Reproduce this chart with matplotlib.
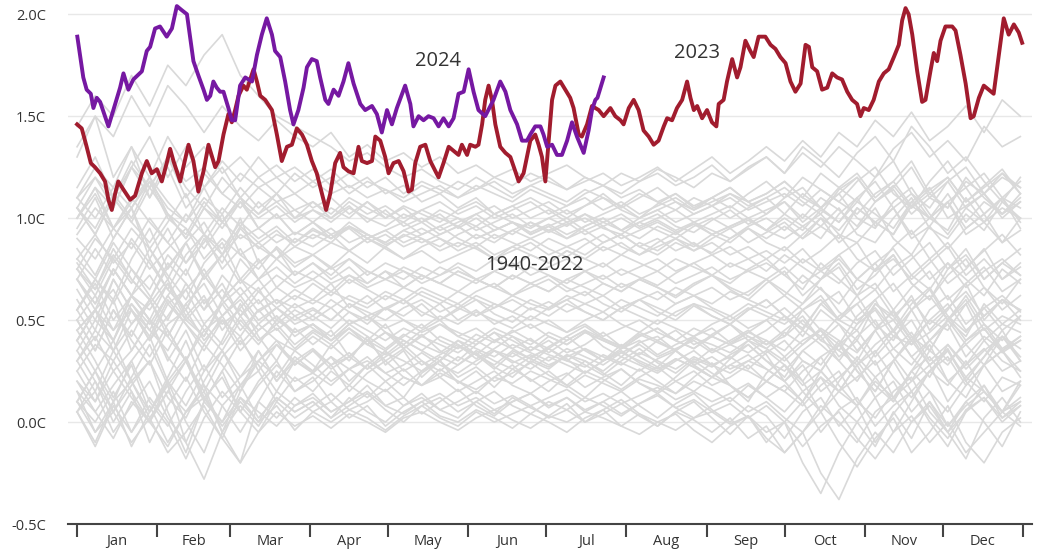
import numpy as np
import matplotlib.pyplot as plt

plt.rcParams['font.family'] = ['Open Sans', 'DejaVu Sans']

months = ['Jan', 'Feb', 'Mar', 'Apr', 'May', 'Jun',
          'Jul', 'Aug', 'Sep', 'Oct', 'Nov', 'Dec']
month_starts = [0, 31, 59, 90, 120, 151, 181, 212, 243, 273, 304, 334, 365]
y_ticks = [-0.5, 0.0, 0.5, 1.0, 1.5, 2.0]

# daily global temperature anomaly (C above 1850-1900), day of year
days_2023 = [0, 1.8, 3.7, 5.3, 6.9, 8.9, 10.8, 12.1, 13.4, 14.7, 15.9, 17.9, 20.5,
             22.4, 25.0, 26.9, 28.8, 30.8, 32.7, 34.6, 35.9, 37.2, 39.8, 41.0, 43.0,
             44.9, 46.8, 48.8, 50.7, 53.3, 54.6, 56.5, 58.4, 59.7, 61.0, 62.3, 64.2,
             65.5, 68.1, 69.4, 70.7, 72.6, 75.2, 77.1, 79.0, 81.0, 82.9, 84.8, 86.8,
             88.7, 90.6, 92.5, 94.5, 96.1, 97.7, 99.6, 101.5, 102.8, 104.7, 106.7,
             108.6, 109.9, 111.9, 113.8, 115.1, 117.0, 118.9, 120.2, 122.1, 124.1,
             126.0, 127.9, 129.2, 130.5, 132.4, 134.4, 136.3, 139.5, 141.4, 143.4,
             145.3, 147.2, 148.5, 150.5, 151.7, 153.7, 154.9, 156.3, 157.5, 158.8,
             160.1, 161.4, 163.3, 165.3, 167.2, 169.1, 170.4, 172.3, 173.6, 174.9,
             176.8, 178.1, 179.4, 180.7, 182.0, 183.3, 184.6, 186.5, 188.4, 190.3,
             191.6, 193.6, 194.8, 196.8, 198.7, 201.3, 203.2, 205.8, 207.7, 209.7,
             210.9, 212.9, 214.8, 216.7, 218.6, 220.6, 222.5, 224.4, 226.4, 227.7,
             229.6, 231.5, 233.5, 235.4, 236.7, 238.0, 239.3, 241.2, 243.1, 245.0,
             246.7, 247.6, 249.5, 250.8, 252.8, 254.7, 256.0, 257.9, 259.8, 261.1,
             263.0, 265.6, 267.6, 269.5, 271.4, 273.4, 275.3, 277.2, 279.2, 281.1,
             282.4, 283.7, 285.6, 287.5, 289.5, 291.4, 293.3, 295.2, 297.2, 299.1,
             301.0, 302.3, 303.6, 305.5, 307.4, 309.4, 311.3, 313.2, 315.2, 317.1,
             318.4, 319.7, 320.9, 322.3, 324.2, 326.1, 327.4, 329.3, 330.6, 331.9,
             333.2, 335.1, 337.7, 339.0, 340.9, 342.9, 344.8, 346.0, 348.0, 349.9,
             351.8, 353.7, 355.7, 357.6, 359.5, 361.5, 363.4, 364.7]
temp_2023 = [1.46, 1.44, 1.35, 1.27, 1.25, 1.22, 1.18, 1.09, 1.04, 1.12, 1.18, 1.14, 1.09,
             1.11, 1.22, 1.28, 1.22, 1.24, 1.18, 1.27, 1.34, 1.28, 1.18, 1.25, 1.36,
             1.28, 1.13, 1.23, 1.36, 1.25, 1.28, 1.41, 1.51, 1.47, 1.53, 1.60, 1.65,
             1.63, 1.73, 1.67, 1.60, 1.58, 1.53, 1.41, 1.28, 1.35, 1.36, 1.44, 1.41,
             1.36, 1.28, 1.22, 1.12, 1.04, 1.12, 1.27, 1.32, 1.25, 1.23, 1.22,
             1.35, 1.28, 1.27, 1.28, 1.40, 1.38, 1.30, 1.22, 1.27, 1.28,
             1.23, 1.13, 1.14, 1.27, 1.35, 1.36, 1.28, 1.20, 1.27, 1.35,
             1.33, 1.31, 1.36, 1.31, 1.36, 1.35, 1.36, 1.46, 1.58, 1.65,
             1.58, 1.46, 1.35, 1.32, 1.30, 1.23, 1.18, 1.22, 1.30, 1.38,
             1.41, 1.36, 1.30, 1.18, 1.38, 1.58, 1.65, 1.67, 1.63, 1.59,
             1.54, 1.41, 1.40, 1.46, 1.55, 1.53, 1.50, 1.54, 1.50, 1.48,
             1.46, 1.54, 1.58, 1.53, 1.43, 1.40, 1.36, 1.38, 1.45, 1.49,
             1.48, 1.54, 1.58, 1.67, 1.59, 1.53, 1.55, 1.49, 1.53, 1.47,
             1.45, 1.56, 1.58, 1.67, 1.78, 1.69, 1.74, 1.87, 1.82, 1.79,
             1.89, 1.89, 1.85, 1.83, 1.79, 1.76, 1.67, 1.62, 1.66, 1.85,
             1.84, 1.74, 1.72, 1.63, 1.64, 1.71, 1.69, 1.68, 1.62, 1.58,
             1.56, 1.50, 1.54, 1.53, 1.58, 1.67, 1.71, 1.73, 1.79, 1.85,
             1.97, 2.03, 2.00, 1.90, 1.72, 1.57, 1.58, 1.72, 1.81, 1.77,
             1.87, 1.94, 1.94, 1.92, 1.80, 1.66, 1.49, 1.50, 1.59, 1.65,
             1.63, 1.61, 1.80, 1.98, 1.90, 1.95, 1.91, 1.86]

days_2024 = [0.1, 2.4, 3.7, 5.3, 6.3, 7.6, 8.9, 12.1, 14.0, 16.6, 17.9, 19.8, 21.7,
             25.0, 26.9, 28.2, 30.1, 32.0, 34.6, 36.6, 38.5, 40.4, 42.4, 44.9, 46.8,
             48.8, 50.1, 51.4, 52.6, 53.9, 55.2, 56.5, 58.4, 59.7, 61.0, 62.9, 64.9,
             67.5, 69.4, 71.3, 73.2, 75.2, 76.4, 78.4, 80.3, 82.2, 83.5, 85.4, 87.4,
             88.7, 90.6, 92.5, 93.8, 95.8, 97.0, 99.0, 100.9, 102.8, 104.7, 106.7,
             109.3, 111.2, 113.8, 115.7, 117.6, 119.6, 121.5, 123.4, 126.6, 128.6,
             129.8, 131.8, 133.7, 135.6, 137.6, 139.5, 141.4, 143.4, 145.3, 147.2,
             149.2, 151.1, 153.0, 154.9, 157.5, 160.7, 163.3, 165.3, 167.2, 169.8,
             171.7, 173.6, 174.9, 176.8, 178.8, 180.0, 181.4, 183.3, 185.2, 187.1,
             189.1, 191.0, 192.9, 195.5, 197.4, 198.7, 200.0, 200.8, 203.2]
temp_2024 = [1.89, 1.69, 1.63, 1.61, 1.54, 1.59, 1.57, 1.45, 1.53, 1.64, 1.71, 1.63, 1.68,
             1.72, 1.82, 1.84, 1.93, 1.94, 1.89, 1.93, 2.04, 2.02, 2.00, 1.77, 1.70,
             1.63, 1.58, 1.60, 1.67, 1.64, 1.62, 1.62, 1.54, 1.48, 1.48, 1.65, 1.69,
             1.67, 1.80, 1.90, 1.98, 1.90, 1.82, 1.79, 1.67, 1.53, 1.46, 1.53, 1.64,
             1.74, 1.78, 1.77, 1.69, 1.58, 1.56, 1.63, 1.60, 1.67, 1.76, 1.66,
             1.56, 1.53, 1.55, 1.51, 1.42, 1.53, 1.46, 1.54, 1.65, 1.56,
             1.45, 1.50, 1.48, 1.50, 1.49, 1.45, 1.49, 1.45, 1.49, 1.61,
             1.62, 1.73, 1.62, 1.53, 1.50, 1.58, 1.67, 1.62, 1.53, 1.46,
             1.38, 1.38, 1.41, 1.45, 1.45, 1.41, 1.35, 1.36, 1.31, 1.31,
             1.38, 1.47, 1.40, 1.32, 1.43, 1.53, 1.58, 1.59, 1.69]

# earlier years, one value per week
y1940 = [0.45, 0.30, 0.12, 0.28, 0.05, 0.22, 0.40, 0.18, -0.05, 0.15, 0.35, 0.20, 0.32,
         0.25, 0.38, 0.30, 0.42, 0.28, 0.35, 0.22, 0.30, 0.40, 0.33, 0.26, 0.34, 0.29,
         0.36, 0.31, 0.24, 0.30, 0.38, 0.32, 0.27, 0.35, 0.28, 0.22, 0.31, 0.40, 0.33,
         0.20, 0.10, 0.25, 0.38, 0.30, 0.45, 0.32, 0.20, 0.35, 0.50, 0.38, 0.28, 0.42, 0.36]
y1941 = [0.50, 0.35, 0.55, 0.42, 0.60, 0.45, 0.30, 0.48, 0.38, 0.52, 0.40, 0.46, 0.36,
         0.44, 0.38, 0.46, 0.40, 0.35, 0.42, 0.48, 0.40, 0.36, 0.43, 0.39, 0.45, 0.40,
         0.36, 0.42, 0.47, 0.41, 0.37, 0.44, 0.40, 0.35, 0.42, 0.46, 0.39, 0.44, 0.50,
         0.42, 0.55, 0.45, 0.38, 0.52, 0.60, 0.44, 0.55, 0.40, 0.50, 0.62, 0.48, 0.40, 0.52]
y1942 = [0.10, 0.25, 0.40, 0.20, 0.30, 0.05, -0.15, 0.10, 0.25, 0.05, 0.20, 0.30, 0.15,
         0.22, 0.10, 0.18, 0.28, 0.20, 0.12, 0.24, 0.30, 0.19, 0.25, 0.17, 0.26, 0.21,
         0.15, 0.23, 0.30, 0.24, 0.18, 0.26, 0.20, 0.14, 0.22, 0.29, 0.18, 0.10, 0.24,
         0.32, 0.20, 0.05, 0.15, 0.28, 0.12, -0.05, 0.10, 0.25, 0.18, 0.30, 0.15, 0.05, 0.20]
y1944 = [0.40, 0.55, 0.65, 0.48, 0.58, 0.70, 0.52, 0.62, 0.45, 0.56, 0.66, 0.50, 0.58,
         0.52, 0.60, 0.54, 0.48, 0.56, 0.52, 0.58, 0.50, 0.55, 0.60, 0.53, 0.49, 0.56,
         0.52, 0.58, 0.54, 0.50, 0.56, 0.60, 0.54, 0.50, 0.57, 0.52, 0.48, 0.55, 0.60,
         0.52, 0.45, 0.58, 0.50, 0.62, 0.48, 0.40, 0.55, 0.65, 0.50, 0.42, 0.58, 0.48, 0.55]
y1945 = [0.55, 0.40, 0.60, 0.35, 0.50, 0.30, 0.45, 0.25, 0.40, 0.58, 0.42, 0.30, 0.46,
         0.38, 0.45, 0.32, 0.40, 0.48, 0.36, 0.43, 0.35, 0.30, 0.38, 0.44, 0.36, 0.41,
         0.34, 0.40, 0.45, 0.37, 0.32, 0.39, 0.42, 0.35, 0.29, 0.36, 0.31, 0.38, 0.30,
         0.22, 0.35, 0.28, 0.40, 0.25, 0.15, 0.30, 0.42, 0.28, 0.36, 0.20, 0.32, 0.45, 0.30]
y1947 = [0.30, 0.15, 0.35, 0.20, 0.05, 0.18, -0.10, -0.28, -0.05, -0.20, 0.10, 0.25, 0.15,
         0.20, 0.28, 0.15, 0.24, 0.30, 0.22, 0.18, 0.26, 0.20, 0.14, 0.22, 0.28, 0.20,
         0.25, 0.18, 0.12, 0.20, 0.26, 0.19, 0.15, 0.22, 0.30, 0.24, 0.18, 0.12, 0.20,
         0.28, 0.15, 0.05, 0.20, 0.32, 0.22, 0.10, 0.25, 0.38, 0.20, 0.12, 0.28, 0.35, 0.22]
y1949 = [0.25, 0.10, 0.30, 0.15, 0.00, 0.20, 0.32, 0.12, 0.22, 0.05, 0.18, 0.28, 0.20,
         0.24, 0.18, 0.26, 0.20, 0.15, 0.22, 0.18, 0.24, 0.20, 0.16, 0.22, 0.19, 0.25,
         0.21, 0.17, 0.23, 0.19, 0.15, 0.21, 0.18, 0.14, 0.20, 0.16, 0.10, 0.18, 0.12,
         0.05, 0.15, 0.22, 0.08, 0.00, 0.12, 0.20, 0.05, 0.15, -0.02, 0.10, 0.18, 0.05, 0.12]
y1950 = [0.15, -0.05, 0.10, -0.12, 0.05, 0.20, 0.00, -0.15, 0.08, 0.18, 0.02, 0.12, 0.05,
         0.10, 0.02, 0.12, 0.05, 0.00, 0.08, 0.14, 0.06, 0.02, 0.10, 0.04, 0.12, 0.07,
         0.03, 0.09, 0.00, 0.06, 0.11, 0.04, -0.02, 0.05, 0.10, 0.02, -0.06, 0.03, -0.10,
         0.00, -0.20, -0.35, -0.15, 0.00, -0.12, 0.05, -0.08, 0.10, -0.05, -0.18, 0.02, 0.12, 0.00]
y1952 = [0.35, 0.20, 0.05, 0.22, 0.38, 0.18, 0.30, 0.10, 0.25, 0.40, 0.28, 0.15, 0.30,
         0.24, 0.32, 0.20, 0.28, 0.35, 0.25, 0.30, 0.22, 0.28, 0.34, 0.27, 0.22, 0.30,
         0.26, 0.33, 0.28, 0.23, 0.30, 0.36, 0.29, 0.24, 0.31, 0.27, 0.33, 0.38, 0.30,
         0.25, 0.35, 0.42, 0.30, 0.20, 0.34, 0.45, 0.32, 0.22, 0.38, 0.28, 0.40, 0.30, 0.25]
y1953 = [0.35, 0.50, 0.40, 0.58, 0.45, 0.35, 0.52, 0.42, 0.60, 0.48, 0.38, 0.50, 0.44,
         0.48, 0.42, 0.50, 0.45, 0.40, 0.46, 0.42, 0.48, 0.44, 0.40, 0.46, 0.42, 0.38,
         0.44, 0.40, 0.45, 0.41, 0.37, 0.43, 0.39, 0.35, 0.41, 0.38, 0.34, 0.40, 0.36,
         0.30, 0.38, 0.45, 0.32, 0.40, 0.28, 0.36, 0.44, 0.30, 0.38, 0.26, 0.35, 0.42, 0.32]
y1954 = [0.05, 0.20, 0.00, 0.15, -0.10, 0.08, 0.22, 0.05, -0.08, 0.12, 0.00, 0.15, 0.08,
         0.14, 0.05, 0.10, 0.18, 0.08, 0.12, 0.04, 0.10, 0.16, 0.08, 0.03, 0.10, 0.14,
         0.07, 0.12, 0.05, 0.10, 0.15, 0.08, 0.02, 0.09, 0.14, 0.06, 0.00, 0.08, 0.03,
         -0.08, 0.05, 0.12, -0.02, 0.08, -0.10, 0.04, 0.15, 0.00, -0.12, 0.05, 0.18, 0.02, 0.10]
y1956 = [0.10, -0.05, 0.05, -0.10, 0.02, -0.15, -0.05, 0.08, -0.08, -0.20, -0.05, 0.05, -0.02,
         0.03, -0.03, 0.04, 0.00, -0.05, 0.02, 0.05, 0.00, -0.04, 0.02, 0.06, 0.01, -0.03,
         0.03, 0.00, 0.05, 0.02, -0.02, 0.04, 0.00, -0.04, 0.02, 0.05, -0.01, 0.03, -0.05,
         0.00, -0.12, -0.02, 0.05, -0.08, -0.18, -0.05, 0.03, -0.10, 0.00, -0.15, -0.05, 0.05, -0.02]
y1957 = [0.10, 0.25, 0.05, 0.18, 0.30, 0.12, 0.02, 0.20, 0.35, 0.22, 0.30, 0.40, 0.28,
         0.35, 0.26, 0.32, 0.40, 0.30, 0.36, 0.28, 0.33, 0.38, 0.31, 0.36, 0.42, 0.35,
         0.40, 0.34, 0.38, 0.44, 0.37, 0.33, 0.40, 0.45, 0.38, 0.42, 0.48, 0.40, 0.45,
         0.52, 0.42, 0.55, 0.48, 0.40, 0.58, 0.50, 0.62, 0.45, 0.55, 0.68, 0.50, 0.60, 0.55]
y1958 = [0.55, 0.70, 0.58, 0.75, 0.62, 0.50, 0.68, 0.55, 0.65, 0.52, 0.60, 0.48, 0.55,
         0.50, 0.56, 0.48, 0.52, 0.46, 0.50, 0.44, 0.48, 0.42, 0.46, 0.40, 0.44, 0.48,
         0.42, 0.38, 0.44, 0.40, 0.36, 0.42, 0.46, 0.40, 0.36, 0.42, 0.38, 0.34, 0.40,
         0.32, 0.40, 0.45, 0.35, 0.28, 0.38, 0.45, 0.32, 0.40, 0.30, 0.38, 0.46, 0.34, 0.40]
y1959 = [0.50, 0.35, 0.55, 0.40, 0.28, 0.45, 0.30, 0.15, 0.32, 0.42, 0.25, 0.38, 0.30,
         0.36, 0.28, 0.34, 0.26, 0.32, 0.38, 0.30, 0.25, 0.32, 0.28, 0.35, 0.30, 0.26,
         0.32, 0.28, 0.24, 0.30, 0.35, 0.29, 0.25, 0.31, 0.27, 0.22, 0.28, 0.33, 0.26,
         0.20, 0.30, 0.25, 0.15, 0.28, 0.35, 0.22, 0.12, 0.25, 0.32, 0.18, 0.28, 0.35, 0.25]
y1962 = [0.30, 0.42, 0.25, 0.35, 0.50, 0.32, 0.20, 0.38, 0.28, 0.15, 0.30, 0.22, 0.35,
         0.28, 0.20, 0.26, 0.32, 0.24, 0.18, 0.25, 0.30, 0.22, 0.27, 0.20, 0.24, 0.29,
         0.23, 0.18, 0.25, 0.21, 0.16, 0.22, 0.27, 0.20, 0.15, 0.22, 0.18, 0.12, 0.20,
         0.15, 0.08, 0.18, 0.25, 0.10, 0.02, 0.15, 0.22, 0.05, -0.05, 0.10, 0.00, -0.12, 0.05]
y1963 = [0.20, 0.05, 0.18, 0.30, 0.10, -0.02, 0.15, 0.28, 0.12, 0.22, 0.35, 0.20, 0.30,
         0.25, 0.32, 0.26, 0.30, 0.24, 0.28, 0.34, 0.28, 0.24, 0.30, 0.35, 0.29, 0.33,
         0.28, 0.32, 0.36, 0.30, 0.34, 0.38, 0.32, 0.36, 0.40, 0.34, 0.38, 0.42, 0.36,
         0.44, 0.38, 0.46, 0.40, 0.34, 0.45, 0.50, 0.38, 0.44, 0.52, 0.40, 0.46, 0.35, 0.42]
y1964 = [0.20, 0.10, 0.25, 0.12, 0.00, 0.15, 0.05, 0.18, 0.08, -0.05, 0.10, 0.02, 0.12,
         0.05, 0.10, 0.02, 0.08, -0.02, 0.05, 0.10, 0.03, 0.00, 0.06, 0.02, -0.03, 0.04,
         0.00, -0.05, 0.02, 0.06, -0.02, -0.06, 0.00, 0.04, -0.04, -0.10, -0.02, 0.03, -0.08,
         -0.15, -0.05, 0.05, -0.10, -0.22, -0.08, 0.02, -0.15, -0.05, 0.08, -0.10, -0.20, -0.05, 0.02]
y1966 = [0.05, -0.10, 0.10, 0.20, 0.02, 0.15, 0.30, 0.12, 0.00, 0.18, 0.25, 0.10, 0.22,
         0.15, 0.25, 0.18, 0.12, 0.20, 0.26, 0.18, 0.22, 0.15, 0.20, 0.25, 0.18, 0.14,
         0.20, 0.24, 0.17, 0.22, 0.26, 0.19, 0.14, 0.20, 0.25, 0.18, 0.22, 0.28, 0.20,
         0.15, 0.25, 0.32, 0.18, 0.08, 0.22, 0.30, 0.15, 0.25, 0.35, 0.20, 0.10, 0.22, 0.18]
y1968 = [0.05, -0.12, 0.08, -0.05, 0.12, 0.00, -0.18, 0.02, 0.15, 0.05, -0.05, 0.10, 0.02,
         0.08, 0.14, 0.06, 0.10, 0.16, 0.08, 0.12, 0.06, 0.10, 0.15, 0.09, 0.13, 0.08,
         0.12, 0.16, 0.10, 0.14, 0.09, 0.13, 0.17, 0.11, 0.15, 0.10, 0.14, 0.19, 0.12,
         0.18, 0.10, 0.22, 0.15, 0.08, 0.20, 0.12, 0.25, 0.15, 0.05, 0.18, 0.28, 0.15, 0.20]
y1969 = [0.25, 0.38, 0.30, 0.45, 0.32, 0.48, 0.55, 0.40, 0.50, 0.35, 0.45, 0.52, 0.42,
         0.48, 0.40, 0.46, 0.38, 0.44, 0.40, 0.35, 0.42, 0.38, 0.33, 0.40, 0.36, 0.31,
         0.37, 0.42, 0.35, 0.30, 0.36, 0.40, 0.33, 0.38, 0.42, 0.35, 0.40, 0.45, 0.38,
         0.42, 0.50, 0.40, 0.35, 0.48, 0.55, 0.42, 0.38, 0.50, 0.45, 0.58, 0.40, 0.48, 0.44]
y1971 = [0.15, 0.05, -0.08, 0.10, 0.00, -0.12, 0.05, 0.15, -0.05, 0.08, -0.02, 0.12, 0.05,
         0.10, 0.02, 0.08, 0.14, 0.06, 0.00, 0.08, 0.12, 0.05, 0.10, 0.15, 0.08, 0.04,
         0.10, 0.06, 0.12, 0.08, 0.03, 0.09, 0.14, 0.07, 0.02, 0.08, 0.12, 0.05, 0.10,
         0.02, -0.05, 0.08, 0.00, -0.10, 0.05, 0.12, 0.00, 0.10, -0.02, 0.08, 0.15, 0.05, 0.10]
y1973 = [0.45, 0.55, 0.40, 0.62, 0.50, 0.42, 0.58, 0.45, 0.35, 0.50, 0.40, 0.48, 0.38,
         0.45, 0.40, 0.48, 0.42, 0.36, 0.43, 0.38, 0.34, 0.40, 0.36, 0.32, 0.38, 0.34,
         0.30, 0.36, 0.32, 0.28, 0.34, 0.30, 0.26, 0.31, 0.27, 0.22, 0.28, 0.25, 0.20,
         0.28, 0.18, 0.25, 0.15, 0.22, 0.30, 0.12, 0.20, 0.28, 0.10, 0.22, 0.15, 0.05, 0.18]
y1974 = [0.05, 0.15, -0.05, 0.08, 0.20, 0.02, -0.10, 0.10, 0.00, 0.12, 0.05, -0.02, 0.08,
         0.12, 0.05, 0.10, 0.15, 0.08, 0.04, 0.10, 0.14, 0.08, 0.12, 0.06, 0.10, 0.14,
         0.08, 0.12, 0.06, 0.10, 0.04, 0.09, 0.13, 0.07, 0.11, 0.05, 0.09, 0.02, 0.08,
         0.00, 0.10, -0.05, 0.06, 0.12, -0.02, 0.08, 0.15, 0.02, -0.08, 0.06, 0.12, 0.00, 0.08]
y1976 = [0.10, 0.00, 0.15, -0.05, 0.08, -0.10, 0.05, 0.12, -0.02, 0.10, 0.00, 0.08, -0.04,
         0.05, 0.00, 0.06, 0.02, -0.04, 0.03, 0.08, 0.02, -0.02, 0.05, 0.00, 0.04, 0.08,
         0.02, 0.06, 0.00, 0.04, 0.09, 0.03, -0.02, 0.05, 0.01, -0.05, 0.02, -0.08, -0.02,
         -0.15, -0.05, -0.25, -0.38, -0.18, -0.05, -0.15, 0.00, 0.08, -0.05, 0.05, 0.12, 0.02, 0.08]
y1977 = [0.30, 0.45, 0.35, 0.55, 0.42, 0.60, 0.48, 0.38, 0.52, 0.62, 0.50, 0.56, 0.48,
         0.52, 0.46, 0.54, 0.50, 0.56, 0.50, 0.46, 0.52, 0.48, 0.54, 0.50, 0.46, 0.52,
         0.48, 0.44, 0.50, 0.54, 0.48, 0.44, 0.50, 0.46, 0.42, 0.48, 0.52, 0.46, 0.50,
         0.56, 0.48, 0.42, 0.52, 0.58, 0.46, 0.54, 0.40, 0.50, 0.58, 0.45, 0.52, 0.60, 0.50]
y1978 = [0.40, 0.55, 0.35, 0.48, 0.60, 0.42, 0.30, 0.45, 0.52, 0.38, 0.48, 0.40, 0.35,
         0.42, 0.36, 0.44, 0.38, 0.33, 0.40, 0.35, 0.30, 0.37, 0.33, 0.28, 0.35, 0.31,
         0.27, 0.33, 0.30, 0.25, 0.32, 0.28, 0.24, 0.30, 0.35, 0.28, 0.32, 0.26, 0.34,
         0.40, 0.30, 0.25, 0.38, 0.45, 0.32, 0.42, 0.50, 0.35, 0.28, 0.40, 0.48, 0.36, 0.42]
y1980 = [0.40, 0.55, 0.45, 0.62, 0.50, 0.42, 0.58, 0.68, 0.52, 0.60, 0.48, 0.56, 0.50,
         0.55, 0.50, 0.58, 0.52, 0.56, 0.60, 0.54, 0.50, 0.56, 0.52, 0.58, 0.54, 0.50,
         0.56, 0.60, 0.54, 0.50, 0.56, 0.52, 0.48, 0.54, 0.58, 0.52, 0.48, 0.55, 0.60,
         0.52, 0.46, 0.58, 0.64, 0.50, 0.56, 0.45, 0.58, 0.66, 0.52, 0.44, 0.56, 0.62, 0.54]
y1981 = [0.60, 0.45, 0.70, 0.55, 0.40, 0.58, 0.48, 0.35, 0.50, 0.42, 0.55, 0.45, 0.52,
         0.46, 0.40, 0.48, 0.52, 0.44, 0.38, 0.45, 0.50, 0.42, 0.38, 0.44, 0.40, 0.35,
         0.42, 0.38, 0.44, 0.40, 0.36, 0.42, 0.46, 0.40, 0.36, 0.43, 0.48, 0.42, 0.38,
         0.45, 0.52, 0.40, 0.48, 0.35, 0.45, 0.55, 0.42, 0.35, 0.50, 0.60, 0.45, 0.52, 0.48]
y1983 = [0.75, 0.65, 0.85, 0.70, 0.60, 0.78, 0.68, 0.55, 0.72, 0.62, 0.70, 0.58, 0.65,
         0.60, 0.68, 0.56, 0.62, 0.55, 0.60, 0.52, 0.58, 0.50, 0.55, 0.48, 0.52, 0.46,
         0.50, 0.44, 0.48, 0.42, 0.46, 0.50, 0.44, 0.40, 0.46, 0.42, 0.38, 0.44, 0.40,
         0.35, 0.45, 0.38, 0.30, 0.42, 0.50, 0.36, 0.28, 0.40, 0.48, 0.32, 0.42, 0.35, 0.40]
y1985 = [0.40, 0.25, 0.10, 0.30, 0.42, 0.20, 0.08, 0.25, 0.35, 0.18, 0.30, 0.38, 0.28,
         0.35, 0.28, 0.32, 0.26, 0.34, 0.30, 0.25, 0.32, 0.28, 0.35, 0.30, 0.26, 0.32,
         0.36, 0.30, 0.27, 0.33, 0.29, 0.25, 0.31, 0.35, 0.28, 0.32, 0.26, 0.30, 0.35,
         0.28, 0.20, 0.32, 0.38, 0.25, 0.15, 0.30, 0.40, 0.28, 0.35, 0.22, 0.32, 0.42, 0.30]
y1987 = [0.45, 0.55, 0.40, 0.58, 0.48, 0.62, 0.50, 0.42, 0.58, 0.66, 0.54, 0.60, 0.56,
         0.60, 0.56, 0.62, 0.58, 0.64, 0.60, 0.66, 0.62, 0.58, 0.64, 0.68, 0.62, 0.66,
         0.70, 0.64, 0.68, 0.72, 0.66, 0.70, 0.74, 0.68, 0.72, 0.76, 0.70, 0.74, 0.78,
         0.72, 0.80, 0.74, 0.68, 0.78, 0.84, 0.72, 0.80, 0.88, 0.75, 0.82, 0.70, 0.78, 0.85]
y1988 = [0.70, 0.55, 0.75, 0.62, 0.80, 0.65, 0.55, 0.72, 0.60, 0.70, 0.58, 0.66, 0.60,
         0.68, 0.62, 0.70, 0.65, 0.60, 0.66, 0.62, 0.58, 0.64, 0.60, 0.56, 0.62, 0.58,
         0.55, 0.60, 0.64, 0.58, 0.54, 0.60, 0.56, 0.52, 0.58, 0.55, 0.50, 0.56, 0.52,
         0.48, 0.55, 0.62, 0.50, 0.45, 0.58, 0.52, 0.40, 0.55, 0.62, 0.48, 0.56, 0.45, 0.52]
y1990 = [0.55, 0.70, 0.60, 0.80, 0.95, 0.75, 0.88, 0.70, 0.82, 1.00, 0.78, 0.85, 0.72,
         0.78, 0.70, 0.76, 0.68, 0.74, 0.66, 0.72, 0.68, 0.64, 0.70, 0.66, 0.62, 0.68,
         0.72, 0.66, 0.62, 0.68, 0.64, 0.70, 0.66, 0.61, 0.67, 0.72, 0.65, 0.60, 0.68,
         0.74, 0.62, 0.70, 0.78, 0.65, 0.72, 0.82, 0.68, 0.60, 0.75, 0.85, 0.70, 0.78, 0.72]
y1991 = [0.70, 0.85, 0.72, 0.90, 0.78, 0.65, 0.82, 0.92, 0.75, 0.85, 0.70, 0.80, 0.72,
         0.78, 0.72, 0.80, 0.74, 0.70, 0.76, 0.72, 0.68, 0.74, 0.70, 0.66, 0.72, 0.68,
         0.64, 0.70, 0.66, 0.62, 0.68, 0.64, 0.60, 0.66, 0.62, 0.58, 0.64, 0.60, 0.56,
         0.62, 0.55, 0.60, 0.50, 0.58, 0.65, 0.52, 0.60, 0.48, 0.56, 0.64, 0.52, 0.60, 0.55]
y1992 = [0.70, 0.58, 0.75, 0.62, 0.55, 0.68, 0.50, 0.60, 0.48, 0.55, 0.45, 0.52, 0.44,
         0.48, 0.40, 0.46, 0.38, 0.44, 0.36, 0.42, 0.38, 0.34, 0.40, 0.35, 0.32, 0.37,
         0.33, 0.30, 0.36, 0.32, 0.28, 0.34, 0.30, 0.26, 0.32, 0.28, 0.24, 0.30, 0.26,
         0.20, 0.28, 0.15, 0.22, 0.30, 0.18, 0.10, 0.25, 0.32, 0.20, 0.28, 0.36, 0.25, 0.30]
y1994 = [0.50, 0.62, 0.45, 0.55, 0.40, 0.52, 0.65, 0.48, 0.58, 0.45, 0.55, 0.60, 0.52,
         0.56, 0.50, 0.58, 0.54, 0.50, 0.56, 0.60, 0.54, 0.58, 0.52, 0.56, 0.60, 0.55,
         0.59, 0.54, 0.58, 0.62, 0.56, 0.60, 0.64, 0.58, 0.62, 0.66, 0.60, 0.64, 0.70,
         0.62, 0.72, 0.65, 0.58, 0.70, 0.78, 0.64, 0.72, 0.80, 0.68, 0.75, 0.85, 0.70, 0.78]
y1995 = [0.85, 0.72, 0.90, 1.05, 0.80, 0.95, 0.78, 0.88, 1.02, 0.82, 0.75, 0.86, 0.78,
         0.82, 0.75, 0.80, 0.72, 0.78, 0.74, 0.70, 0.76, 0.72, 0.68, 0.74, 0.70, 0.76,
         0.72, 0.68, 0.74, 0.70, 0.75, 0.71, 0.67, 0.73, 0.78, 0.72, 0.68, 0.75, 0.80,
         0.72, 0.65, 0.78, 0.70, 0.62, 0.75, 0.82, 0.68, 0.60, 0.72, 0.80, 0.66, 0.58, 0.70]
y1996 = [0.65, 0.50, 0.70, 0.55, 0.45, 0.62, 0.75, 0.58, 0.68, 0.52, 0.64, 0.56, 0.62,
         0.58, 0.64, 0.60, 0.56, 0.62, 0.58, 0.64, 0.60, 0.56, 0.62, 0.58, 0.54, 0.60,
         0.56, 0.62, 0.58, 0.54, 0.60, 0.56, 0.52, 0.58, 0.62, 0.56, 0.52, 0.58, 0.54,
         0.50, 0.58, 0.66, 0.54, 0.48, 0.60, 0.68, 0.55, 0.62, 0.50, 0.58, 0.66, 0.55, 0.62]
y1997 = [0.55, 0.68, 0.50, 0.62, 0.72, 0.58, 0.65, 0.75, 0.60, 0.70, 0.64, 0.72, 0.66,
         0.70, 0.64, 0.72, 0.68, 0.74, 0.70, 0.76, 0.72, 0.78, 0.74, 0.80, 0.76, 0.82,
         0.78, 0.84, 0.80, 0.86, 0.82, 0.88, 0.84, 0.90, 0.86, 0.92, 0.88, 0.95, 0.90,
         0.96, 0.90, 1.00, 0.94, 1.05, 0.98, 0.92, 1.06, 1.00, 1.12, 0.98, 1.08, 1.02, 1.10]
y1998 = [1.10, 1.20, 1.05, 1.25, 1.15, 1.30, 1.10, 1.22, 1.12, 1.05, 1.15, 1.08, 1.12,
         1.05, 1.10, 1.02, 1.08, 1.00, 1.05, 0.98, 1.02, 0.95, 1.00, 0.94, 0.98, 0.92,
         0.96, 0.90, 0.94, 0.88, 0.92, 0.86, 0.90, 0.84, 0.88, 0.82, 0.86, 0.80, 0.84,
         0.78, 0.85, 0.75, 0.82, 0.70, 0.78, 0.85, 0.72, 0.65, 0.78, 0.70, 0.62, 0.75, 0.68]
y1999 = [0.75, 0.62, 0.80, 0.68, 0.85, 0.72, 0.60, 0.78, 0.88, 0.70, 0.80, 0.66, 0.74,
         0.70, 0.76, 0.68, 0.74, 0.70, 0.66, 0.72, 0.68, 0.74, 0.70, 0.66, 0.72, 0.68,
         0.64, 0.70, 0.74, 0.68, 0.64, 0.70, 0.66, 0.62, 0.68, 0.72, 0.66, 0.62, 0.70,
         0.64, 0.58, 0.70, 0.76, 0.62, 0.68, 0.55, 0.66, 0.74, 0.60, 0.68, 0.76, 0.64, 0.70]
y2001 = [0.75, 0.90, 0.80, 0.95, 0.85, 0.70, 0.88, 0.98, 0.82, 0.92, 0.86, 0.80, 0.90,
         0.86, 0.92, 0.84, 0.90, 0.85, 0.80, 0.86, 0.90, 0.84, 0.88, 0.82, 0.86, 0.90,
         0.85, 0.81, 0.87, 0.92, 0.86, 0.82, 0.88, 0.93, 0.87, 0.83, 0.90, 0.95, 0.88,
         0.84, 0.92, 1.00, 0.88, 0.95, 1.05, 0.90, 0.82, 0.96, 1.08, 0.92, 0.98, 1.10, 0.95]
y2002 = [1.00, 1.15, 1.05, 1.25, 1.10, 1.30, 1.15, 1.05, 1.20, 1.10, 1.02, 1.12, 1.04,
         1.08, 1.00, 1.06, 0.98, 1.04, 0.96, 1.00, 0.94, 0.98, 1.02, 0.96, 0.92, 0.98,
         0.94, 0.90, 0.96, 1.00, 0.94, 0.90, 0.96, 0.92, 0.98, 0.94, 0.90, 0.96, 1.00,
         0.94, 1.02, 0.96, 0.90, 1.05, 0.98, 0.92, 1.08, 1.00, 0.94, 1.10, 0.98, 1.05, 1.00]
y2003 = [1.05, 0.92, 1.10, 0.98, 0.88, 1.02, 0.95, 0.85, 0.98, 0.90, 0.95, 0.88, 0.93,
         0.90, 0.95, 0.88, 0.92, 0.87, 0.91, 0.95, 0.90, 0.86, 0.92, 0.88, 0.94, 0.90,
         0.94, 0.98, 0.92, 0.96, 0.90, 0.94, 0.98, 0.93, 0.97, 0.92, 0.96, 1.00, 0.94,
         1.02, 0.96, 0.90, 1.02, 1.10, 0.96, 1.05, 0.92, 1.00, 1.08, 0.95, 1.02, 1.10, 0.98]
y2004 = [1.00, 1.15, 0.95, 1.08, 1.20, 1.02, 0.90, 1.05, 0.98, 1.10, 0.95, 1.02, 0.92,
         0.98, 0.92, 0.96, 0.90, 0.94, 0.88, 0.92, 0.96, 0.90, 0.86, 0.92, 0.88, 0.84,
         0.90, 0.86, 0.82, 0.88, 0.92, 0.86, 0.82, 0.88, 0.84, 0.90, 0.95, 0.88, 0.93,
         0.98, 0.90, 0.96, 1.05, 0.92, 0.88, 1.00, 1.10, 0.95, 0.90, 1.02, 0.94, 1.08, 1.00]
y2005 = [1.00, 1.12, 0.95, 1.05, 1.18, 1.00, 0.92, 1.08, 0.98, 1.10, 1.02, 1.08, 1.00,
         1.04, 0.98, 1.05, 1.00, 0.96, 1.02, 0.98, 1.04, 1.00, 0.96, 1.02, 0.98, 0.95,
         1.00, 0.96, 1.02, 0.98, 0.94, 1.00, 1.04, 0.98, 1.02, 1.06, 1.00, 1.05, 1.10,
         1.02, 1.12, 1.05, 0.98, 1.10, 1.18, 1.05, 1.12, 1.00, 1.08, 1.15, 1.02, 1.10, 1.05]
y2007 = [1.30, 1.50, 1.20, 1.35, 1.10, 1.25, 1.05, 1.15, 0.98, 1.08, 0.95, 1.02, 0.92,
         0.98, 0.90, 0.95, 0.88, 0.92, 0.86, 0.90, 0.84, 0.88, 0.85, 0.80, 0.86, 0.82,
         0.78, 0.84, 0.80, 0.76, 0.82, 0.78, 0.74, 0.80, 0.76, 0.72, 0.78, 0.74, 0.70,
         0.76, 0.68, 0.74, 0.80, 0.70, 0.65, 0.76, 0.82, 0.70, 0.78, 0.66, 0.74, 0.80, 0.72]
y2008 = [0.70, 0.58, 0.75, 0.62, 0.50, 0.68, 0.55, 0.72, 0.60, 0.80, 0.70, 0.76, 0.68,
         0.74, 0.68, 0.72, 0.66, 0.70, 0.74, 0.68, 0.72, 0.76, 0.70, 0.74, 0.78, 0.72,
         0.76, 0.80, 0.74, 0.78, 0.72, 0.76, 0.80, 0.74, 0.78, 0.82, 0.76, 0.80, 0.74,
         0.82, 0.76, 0.70, 0.82, 0.88, 0.74, 0.80, 0.70, 0.78, 0.86, 0.72, 0.80, 0.70, 0.76]
y2009 = [0.80, 0.92, 0.78, 0.88, 0.75, 0.85, 0.95, 0.80, 0.90, 0.82, 0.88, 0.80, 0.86,
         0.82, 0.88, 0.84, 0.90, 0.86, 0.92, 0.88, 0.92, 0.96, 0.90, 0.94, 0.98, 0.92,
         0.96, 1.00, 0.94, 0.98, 1.02, 0.96, 1.00, 1.04, 0.98, 1.02, 1.06, 1.00, 1.04,
         1.08, 1.00, 1.10, 1.04, 0.96, 1.08, 1.14, 1.02, 1.10, 1.18, 1.05, 1.12, 1.00, 1.08]
y2010 = [1.15, 1.30, 1.10, 1.25, 1.40, 1.20, 1.35, 1.15, 1.28, 1.18, 1.30, 1.20, 1.25,
         1.18, 1.24, 1.15, 1.20, 1.12, 1.16, 1.08, 1.12, 1.05, 1.10, 1.02, 1.06, 1.00,
         1.04, 0.98, 1.02, 0.96, 1.00, 0.95, 0.99, 0.94, 0.98, 0.92, 0.96, 1.00, 0.94,
         0.90, 0.96, 1.02, 0.92, 0.88, 0.98, 1.05, 0.90, 0.96, 0.85, 0.95, 1.02, 0.88, 0.94]
y2011 = [0.78, 0.65, 0.82, 0.70, 0.60, 0.76, 0.88, 0.72, 0.82, 0.68, 0.78, 0.85, 0.76,
         0.82, 0.76, 0.84, 0.78, 0.86, 0.80, 0.84, 0.78, 0.82, 0.86, 0.80, 0.84, 0.88,
         0.82, 0.86, 0.90, 0.84, 0.88, 0.82, 0.86, 0.90, 0.84, 0.88, 0.82, 0.86, 0.80,
         0.86, 0.78, 0.84, 0.92, 0.80, 0.74, 0.86, 0.94, 0.80, 0.88, 0.76, 0.84, 0.92, 0.82]
y2012 = [0.80, 0.70, 0.88, 0.75, 0.65, 0.82, 0.72, 0.90, 0.78, 0.95, 0.85, 0.92, 0.88,
         0.95, 0.90, 0.98, 0.92, 0.88, 0.94, 0.90, 0.86, 0.92, 0.96, 0.90, 0.94, 0.98,
         0.93, 0.97, 1.00, 0.95, 0.92, 0.98, 1.02, 0.96, 0.93, 0.99, 1.04, 0.97, 1.02,
         1.08, 0.98, 1.05, 1.12, 1.00, 0.95, 1.08, 1.15, 1.02, 0.92, 1.05, 0.98, 0.88, 1.00]
y2013 = [0.92, 1.05, 0.95, 1.10, 0.98, 0.88, 1.02, 0.92, 0.85, 0.98, 0.90, 0.96, 0.88,
         0.94, 0.90, 0.96, 0.92, 0.88, 0.94, 0.98, 0.92, 0.96, 0.90, 0.94, 0.98, 0.93,
         0.97, 0.92, 0.96, 1.00, 0.94, 0.98, 0.94, 0.90, 0.96, 1.00, 0.95, 0.99, 0.94,
         1.00, 0.94, 1.04, 0.98, 1.08, 1.02, 0.95, 1.08, 1.15, 1.00, 1.06, 1.12, 1.02, 1.08]
y2014 = [0.95, 1.10, 0.90, 1.05, 0.85, 0.98, 1.12, 0.92, 1.05, 0.96, 1.08, 1.00, 1.04,
         0.98, 1.05, 1.00, 1.08, 1.02, 0.98, 1.04, 1.00, 0.96, 1.02, 1.06, 1.00, 1.04,
         1.08, 1.02, 1.06, 1.10, 1.04, 1.00, 1.07, 1.12, 1.05, 1.10, 1.15, 1.08, 1.12,
         1.18, 1.10, 1.22, 1.15, 1.08, 1.20, 1.28, 1.12, 1.05, 1.18, 1.25, 1.12, 1.20, 1.15]
y2015 = [1.05, 1.20, 1.10, 1.28, 1.15, 1.30, 1.18, 1.25, 1.12, 1.22, 1.15, 1.20, 1.12,
         1.18, 1.12, 1.16, 1.10, 1.14, 1.08, 1.12, 1.16, 1.10, 1.14, 1.18, 1.12, 1.16,
         1.20, 1.14, 1.18, 1.22, 1.16, 1.20, 1.25, 1.18, 1.24, 1.30, 1.22, 1.28, 1.35,
         1.28, 1.38, 1.30, 1.42, 1.35, 1.48, 1.40, 1.52, 1.38, 1.45, 1.55, 1.42, 1.58, 1.50]
y2016 = [1.45, 1.60, 1.50, 1.70, 1.55, 1.75, 1.65, 1.80, 1.90, 1.70, 1.60, 1.50, 1.45,
         1.40, 1.35, 1.28, 1.32, 1.25, 1.20, 1.24, 1.18, 1.14, 1.20, 1.15, 1.10, 1.16,
         1.12, 1.08, 1.14, 1.10, 1.06, 1.12, 1.08, 1.04, 1.10, 1.06, 1.12, 1.08, 1.02,
         1.10, 1.15, 1.05, 1.12, 1.20, 1.08, 1.15, 1.25, 1.10, 1.05, 1.18, 1.12, 1.22, 1.15]
y2017 = [1.10, 1.25, 1.15, 1.35, 1.20, 1.40, 1.25, 1.35, 1.22, 1.30, 1.20, 1.26, 1.18,
         1.24, 1.16, 1.22, 1.15, 1.20, 1.12, 1.18, 1.14, 1.10, 1.16, 1.12, 1.08, 1.14,
         1.10, 1.06, 1.12, 1.16, 1.10, 1.14, 1.08, 1.12, 1.06, 1.10, 1.15, 1.08, 1.12,
         1.18, 1.10, 1.05, 1.15, 1.22, 1.10, 1.18, 1.28, 1.12, 1.05, 1.20, 1.10, 1.02, 1.12]
y2018 = [1.05, 0.92, 1.10, 0.98, 1.15, 1.02, 0.90, 1.05, 0.95, 1.08, 1.00, 1.06, 0.98,
         1.04, 1.00, 1.08, 1.02, 1.06, 1.00, 1.04, 1.08, 1.02, 1.06, 1.00, 1.04, 1.08,
         1.02, 1.06, 1.10, 1.04, 1.08, 1.02, 1.06, 1.10, 1.04, 1.08, 1.12, 1.06, 1.10,
         1.15, 1.08, 1.02, 1.14, 1.20, 1.08, 1.16, 1.05, 1.12, 1.20, 1.08, 1.15, 1.22, 1.12]
y2019 = [1.05, 0.95, 1.12, 1.00, 1.18, 1.05, 0.98, 1.15, 1.25, 1.10, 1.20, 1.12, 1.22,
         1.15, 1.20, 1.12, 1.18, 1.14, 1.10, 1.16, 1.12, 1.18, 1.14, 1.20, 1.16, 1.22,
         1.18, 1.14, 1.20, 1.16, 1.12, 1.18, 1.22, 1.16, 1.20, 1.26, 1.18, 1.24, 1.30,
         1.22, 1.32, 1.25, 1.35, 1.28, 1.20, 1.34, 1.42, 1.30, 1.38, 1.28, 1.45, 1.35, 1.40]
y2020 = [1.35, 1.50, 1.40, 1.60, 1.45, 1.65, 1.55, 1.42, 1.55, 1.45, 1.38, 1.48, 1.40,
         1.35, 1.42, 1.30, 1.36, 1.28, 1.32, 1.25, 1.30, 1.22, 1.26, 1.20, 1.24, 1.18,
         1.22, 1.26, 1.20, 1.16, 1.22, 1.18, 1.24, 1.20, 1.15, 1.22, 1.18, 1.25, 1.30,
         1.22, 1.35, 1.28, 1.20, 1.32, 1.40, 1.28, 1.45, 1.35, 1.22, 1.30, 1.18, 1.08, 1.20]
y2021 = [0.90, 0.80, 0.95, 0.85, 1.00, 0.88, 0.78, 0.92, 0.82, 0.96, 0.88, 0.94, 0.86,
         0.92, 0.88, 0.96, 0.90, 0.94, 0.98, 0.92, 0.96, 1.00, 0.94, 0.98, 1.02, 0.96,
         1.00, 1.04, 0.98, 1.02, 1.06, 1.00, 1.04, 1.08, 1.02, 1.06, 1.10, 1.04, 1.08,
         1.12, 1.06, 1.14, 1.08, 1.02, 1.12, 1.18, 1.06, 1.14, 1.20, 1.08, 1.16, 1.24, 1.12]
y2022 = [1.10, 1.00, 1.15, 1.05, 1.20, 1.08, 0.98, 1.10, 1.02, 1.15, 1.05, 1.12, 1.00,
         1.08, 1.02, 1.10, 1.05, 1.00, 1.06, 1.02, 0.98, 1.04, 1.08, 1.02, 1.06, 1.10,
         1.05, 1.00, 1.06, 1.12, 1.05, 1.10, 1.15, 1.08, 1.04, 1.10, 1.05, 1.12, 1.18,
         1.10, 1.20, 1.14, 1.08, 1.18, 1.25, 1.12, 1.05, 1.18, 1.28, 1.15, 1.22, 1.10, 1.18]

past_years = [y1940, y1941, y1942, y1944, y1945, y1947, y1949, y1950, y1952, y1953,
              y1954, y1956, y1957, y1958, y1959, y1962, y1963, y1964, y1966, y1968,
              y1969, y1971, y1973, y1974, y1976, y1977, y1978, y1980, y1981, y1983,
              y1985, y1987, y1988, y1990, y1991, y1992, y1994, y1995, y1996, y1997,
              y1998, y1999, y2001, y2002, y2003, y2004, y2005, y2007, y2008, y2009,
              y2010, y2011, y2012, y2013, y2014, y2015, y2016, y2017, y2018, y2019,
              y2020, y2021, y2022]

fig = plt.figure(figsize=(10.48, 5.56), dpi=100)
ax = fig.add_axes([68 / 1048, 32 / 556, 964 / 1048, 522 / 556])

weeks = np.arange(53) * 7
for vals in past_years:
    ax.plot(weeks, vals, color='#d9d9d9', lw=1.2, zorder=1)

ax.plot(days_2023, temp_2023, color='#a11c2e', lw=2.8, zorder=3,
        solid_joinstyle='round', clip_on=False)
ax.plot(days_2024, temp_2024, color='#7618a2', lw=2.8, zorder=4,
        solid_joinstyle='round', clip_on=False)

for v in y_ticks[1:]:
    ax.axhline(v, color='#e8e8e8', lw=1, zorder=0)

ax.set_xlim(-3.5, 368.5)
ax.set_ylim(-0.5, 2.06)

ax.set_yticks(y_ticks)
ax.set_yticklabels([f'{v:.1f}C' for v in y_ticks])
ax.tick_params(axis='y', length=0, pad=16, labelsize=10.5, labelcolor='#333333')

ax.set_xticks(month_starts)
ax.set_xticklabels([])
ax.set_xticks([(a + b) / 2 for a, b in zip(month_starts[:-1], month_starts[1:])], minor=True)
ax.set_xticklabels(months, minor=True)
ax.tick_params(axis='x', which='major', length=9, width=1.5, color='#444444')
ax.tick_params(axis='x', which='minor', length=0, pad=7, labelsize=10.5,
               labelcolor='#333333')

for side in ['top', 'right', 'left']:
    ax.spines[side].set_visible(False)
ax.spines['bottom'].set_color('#444444')
ax.spines['bottom'].set_linewidth(1.5)

ax.text(139.3, 1.77, '2024', fontsize=14.5, color='#333333', ha='center', va='center', zorder=5)
ax.text(239.2, 1.81, '2023', fontsize=14.5, color='#333333', ha='center', va='center', zorder=5)
ax.text(176.3, 0.77, '1940-2022', fontsize=14.5, color='#333333', ha='center', va='center', zorder=5)

fig.savefig('out.png', dpi=100)
